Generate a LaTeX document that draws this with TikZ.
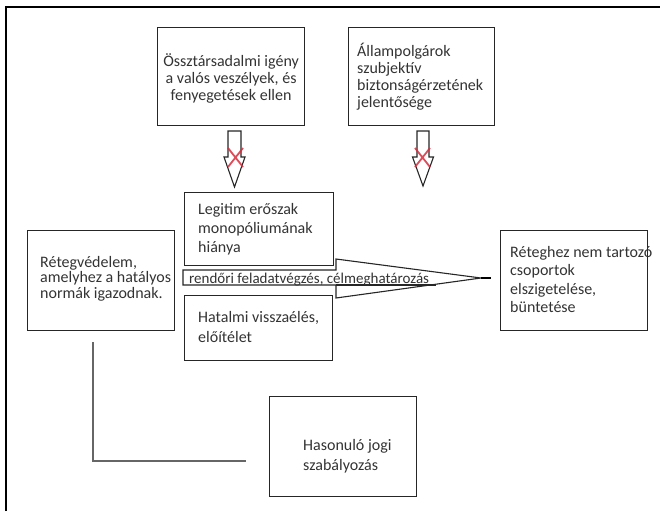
\documentclass[tikz,border=0pt]{standalone}
\usepackage{fontspec}
\setmainfont{Carlito}
\usetikzlibrary{calc}
\definecolor{xred}{RGB}{215,45,60}
\begin{document}
\begin{tikzpicture}[x=1pt,y=-1pt,
  box/.style={draw=black!85,line width=1.2pt,rectangle,anchor=north west,inner sep=0pt},
  txt/.style={anchor=base west,inner sep=0pt,align=left,text=black!80},
  fat/.style={draw=black!85,line width=1.1pt,fill=white,line join=miter},
  cross/.style={draw=xred,line width=1.8pt,opacity=0.85},
  link/.style={draw=black!60,line width=1.3pt}]
\useasboundingbox (0,0) rectangle (660,511);
% frame
\draw[line width=1.5pt] (6,511) -- (6,7) -- (660,7);
% boxes
\node[box,minimum width=147pt,minimum height=98pt] (A) at (157,27) {};
\node[box,minimum width=146pt,minimum height=98pt] (B) at (348,27) {};
\node[box,minimum width=149pt,minimum height=73pt] (L) at (184,192) {};
\node[box,minimum width=147pt,minimum height=100pt] (R) at (27,230) {};
\node[box,minimum width=148pt,minimum height=65pt] (H) at (184,295) {};
\node[box,minimum width=147pt,minimum height=100pt] (T) at (500,230) {};
\node[box,minimum width=147pt,minimum height=100pt] (S) at (269,396) {};
% texts (anchor base = baseline of the last line)
\node[txt,anchor=base,align=center,font=\fontsize{16}{17}\selectfont] (At) at ($(A.north)+(0,73)$)
  {Össztársadalmi igény\\a valós veszélyek, és\\fenyegetések ellen};
\node[txt,font=\fontsize{16}{16.7}\selectfont] (Bt) at ($(B.north west)+(9,80)$)
  {Állampolgárok\\szubjektív\\biztonságérzetének\\jelentősége};
\node[txt,font=\fontsize{16}{19}\selectfont] (Lt) at ($(L.north west)+(14,60)$)
  {Legitim erőszak\\monopóliumának\\hiánya};
\node[txt,font=\fontsize{16}{15.5}\selectfont] (Rt) at ($(R.north west)+(13,68)$)
  {Rétegvédelem,\\amelyhez a hatályos\\normák igazodnak.};
\node[txt,font=\fontsize{16}{20}\selectfont] (Ht) at ($(H.north west)+(14,47)$)
  {Hatalmi visszaélés,\\előítélet};
\node[txt,font=\fontsize{16}{18.5}\selectfont] (Tt) at ($(T.north west)+(10,82.5)$)
  {Réteghez nem tartozó\\csoportok\\elszigetelése,\\büntetése};
\node[txt,font=\fontsize{16}{20}\selectfont] (St) at ($(S.north west)+(34,74)$)
  {Hasonuló jogi\\szabályozás};
% fat down arrows with red crosses
\coordinate (a1) at (234.5,131);
\coordinate (a2) at (423,131);
\draw[fat] ($(a1)+(-6.5,0)$) -- ($(a1)+(6.5,0)$) -- ($(a1)+(6.5,26)$) -- ($(a1)+(10.5,26)$)
  -- ($(a1)+(0,56)$) -- ($(a1)+(-10.5,26)$) -- ($(a1)+(-6.5,26)$) -- cycle;
\draw[fat] ($(a2)+(-6,0)$) -- ($(a2)+(6,0)$) -- ($(a2)+(6,26)$) -- ($(a2)+(10.5,26)$)
  -- ($(a2)+(0,55)$) -- ($(a2)+(-10.5,26)$) -- ($(a2)+(-6,26)$) -- cycle;
\draw[cross] (228,148) -- (243,167) (243,148) -- (228,167);
\draw[cross] (415,148) -- (430,167) (430,148) -- (415,167);
% fat right arrow with label
\coordinate (tip) at (481,278);
\coordinate (s1) at (336,285);
\coordinate (s2) at (436,285);
\draw[fat] (183,270) -- (336,270) -- (336,259) -- (tip) -- (336,298) -- (s1) -- (183,285) -- cycle;
\draw[fat] (s1) -- (s2);
\draw[line width=1.6pt] (tip) -- ($(tip)+(10,0)$);
\node[txt,font=\fontsize{15}{16}\selectfont] (lbl) at (189,283)
  {rendőri feladatvégzés, célmeghatározás};
% L-shaped line
\coordinate (c1) at (93,342);
\coordinate (c2) at (93,461);
\coordinate (c3) at (246,461);
\draw[link] (c1) -- (c2) -- (c3);
\end{tikzpicture}
\end{document}
